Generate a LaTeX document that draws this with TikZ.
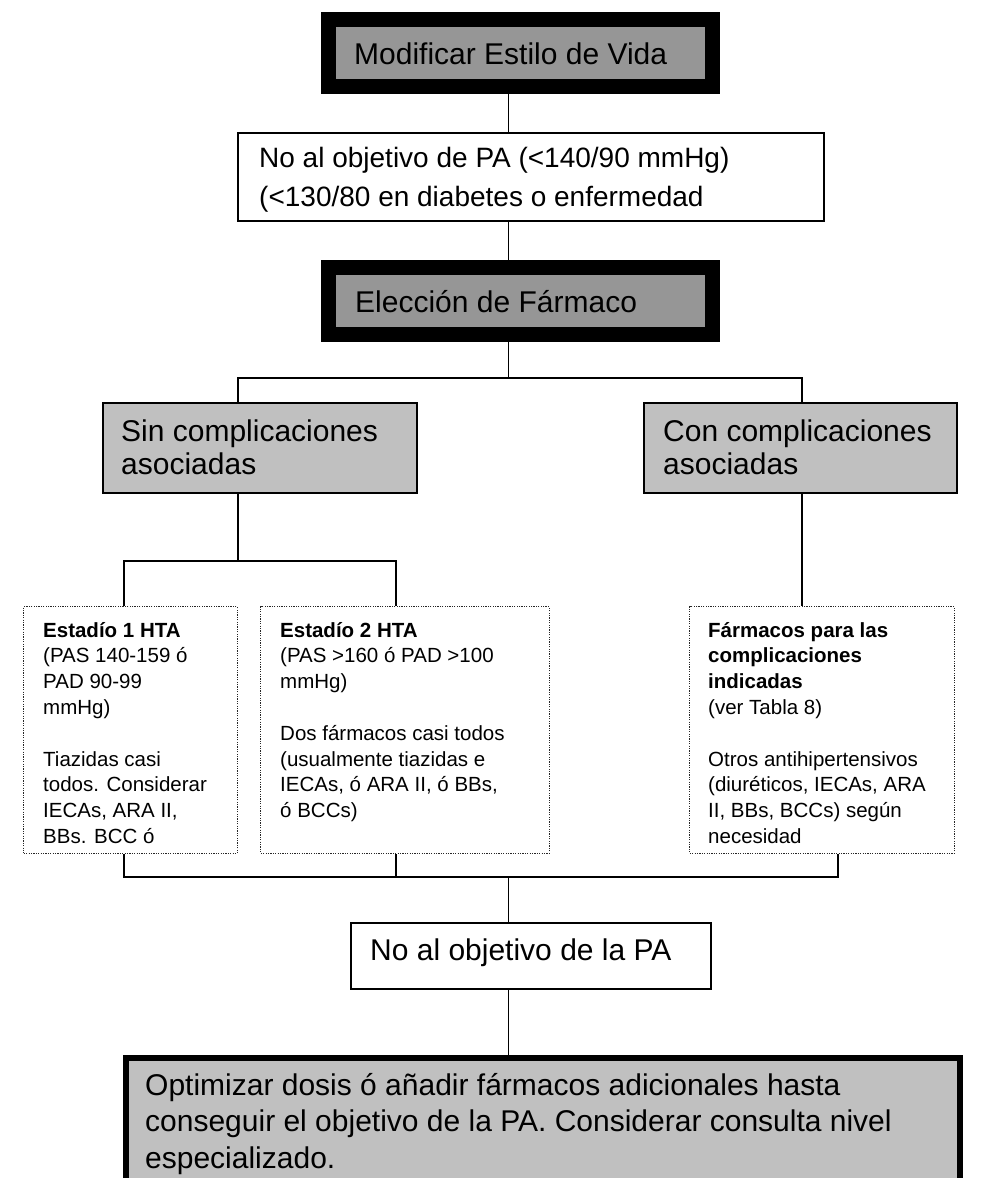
\documentclass[tikz,border=0pt]{standalone}
\usepackage{fontspec}
\setmainfont{Liberation Sans}
\definecolor{darkfill}{RGB}{150,150,150}
\definecolor{lightfill}{RGB}{192,192,192}
\begin{document}
\begin{tikzpicture}[x=1pt,y=-1pt]
\tikzset{
 conn/.style={draw=black, line width=1.5pt},
 heavybox/.style={rectangle, draw=black, line width=15pt, fill=darkfill, inner sep=0pt, minimum width=384pt, minimum height=67pt},
 plainbox/.style={rectangle, draw=black, line width=1.6pt, fill=white, inner sep=0pt},
 greybox/.style={rectangle, draw=black, line width=1.6pt, fill=lightfill, inner sep=0pt},
 dotbox/.style={rectangle, draw=black!85, line width=1.4pt, dash pattern=on 1.2pt off 1.2pt, fill=white, inner sep=0pt, minimum height=246.5pt},
 txt/.style={anchor=base west, inner sep=0pt},
 bigtxt/.style={txt, font=\fontsize{30pt}{33.5pt}\selectfont},
 smalltxt/.style={txt, font=\fontsize{20.5pt}{25.8pt}\selectfont},
}
\path[use as bounding box] (0,0) rectangle (993,1178);
\clip (0,0) rectangle (993,1178);
\fill[white] (0,0) rectangle (993,1178);

% boxes
\node[heavybox] (mBox) at (520.5,53) {};
\node[plainbox, minimum width=586.4pt, minimum height=88.4pt] (qBox) at (531,177) {};
\node[heavybox] (eBox) at (520.5,301) {};
\node[greybox, minimum width=314.4pt, minimum height=90.4pt] (sBox) at (260,448) {};
\node[greybox, minimum width=313.4pt, minimum height=90.4pt] (cBox) at (800.5,448) {};
\node[dotbox, minimum width=213.5pt] (d1Box) at (130.5,730) {};
\node[dotbox, minimum width=288.5pt] (d2Box) at (405,730) {};
\node[dotbox, minimum width=264.5pt] (d3Box) at (822,730) {};
\node[plainbox, minimum width=360.4pt, minimum height=66.4pt] (nBox) at (531,956) {};
\node[rectangle, draw=black, line width=6pt, fill=lightfill, inner sep=0pt, minimum width=834pt, minimum height=142pt] (oBox) at (543,1129) {};

% junction coordinates
\coordinate (sp) at (508.5,0);
\coordinate (h1L) at (238,378);
\coordinate (h1R) at (802,378);
\coordinate (h2L) at (124,561);
\coordinate (h2R) at (396,561);
\coordinate (h3L) at (124,877);
\coordinate (h3R) at (838,877);

% connectors
\draw[conn] (mBox.south -| sp) -- (qBox.north -| sp);
\draw[conn] (qBox.south -| sp) -- (eBox.north -| sp);
\draw[conn] (eBox.south -| sp) -- (sp |- h1L);
\draw[conn] (sBox.north -| h1L) -- (h1L) -- (h1R) -- (cBox.north -| h1R);
\draw[conn] (sBox.south -| h1L) -- (h1L |- h2L);
\draw[conn] (d1Box.north -| h2L) -- (h2L) -- (h2R) -- (d2Box.north -| h2R);
\draw[conn] (cBox.south -| h1R) -- (d3Box.north -| h1R);
\draw[conn] (d1Box.south -| h3L) -- (h3L) -- (h3R) -- (d3Box.south -| h3R);
\draw[conn] (d2Box.south -| h2R) -- (h2R |- h3L);
\draw[conn] (sp |- h3L) -- (nBox.north -| sp);
\draw[conn] (nBox.south -| sp) -- (oBox.north -| sp);

% texts
\node[bigtxt] (mTxt) at (354,64) {Modificar Estilo de Vida};
\node[txt, font=\fontsize{28pt}{39pt}\selectfont] (qTxt) at (259,167) {\parbox[t]{560pt}{No al objetivo de PA (<140/90 mmHg)\\(<130/80 en diabetes o enfermedad}};
\node[bigtxt] (eTxt) at (355,312) {Elección de Fármaco};
\node[bigtxt] (sTxt) at (121,441) {\parbox[t]{300pt}{Sin complicaciones\\asociadas}};
\node[bigtxt] (cTxt) at (663,441) {\parbox[t]{300pt}{Con complicaciones\\asociadas}};
\node[smalltxt] (d1Txt) at (43,637) {\parbox[t]{200pt}{\textbf{Estadío 1 HTA}\\(PAS 140-159 ó\\PAD 90-99\\mmHg)\\[25.8pt]Tiazidas casi\\todos. Considerar\\IECAs, ARA II,\\BBs. BCC ó}};
\node[smalltxt] (d2Txt) at (280,637) {\parbox[t]{270pt}{\textbf{Estadío 2 HTA}\\(PAS >160 ó PAD >100\\mmHg)\\[25.8pt]Dos fármacos casi todos\\(usualmente tiazidas e\\IECAs, ó ARA II, ó BBs,\\ó BCCs)}};
\node[smalltxt] (d3Txt) at (708,637) {\parbox[t]{260pt}{\textbf{Fármacos para las}\\\textbf{complicaciones}\\\textbf{indicadas}\\(ver Tabla 8)\\[25.8pt]Otros antihipertensivos\\(diuréticos, IECAs, ARA\\II, BBs, BCCs) según\\necesidad}};
\node[bigtxt] (nTxt) at (370,960) {No al objetivo de la PA};
\node[txt, font=\fontsize{30pt}{36.5pt}\selectfont] (oTxt) at (145,1095) {\parbox[t]{820pt}{Optimizar dosis ó añadir fármacos adicionales hasta\\conseguir el objetivo de la PA. Considerar consulta nivel\\especializado.}};
\end{tikzpicture}
\end{document}
